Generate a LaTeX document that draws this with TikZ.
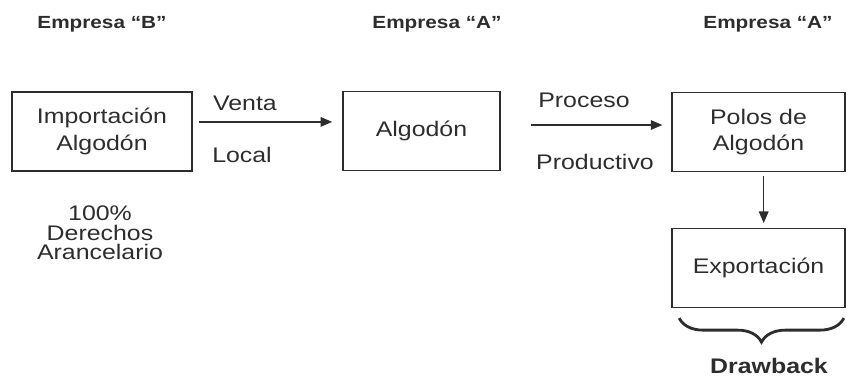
\documentclass[tikz,border=0pt]{standalone}
\usepackage{fontspec}
\setmainfont[FakeStretch=1.18]{Liberation Sans}
\usetikzlibrary{arrows.meta, positioning, decorations.pathreplacing, calc}
\definecolor{inkgray}{RGB}{45,45,45}
\tikzset{
    box/.style={rectangle, draw=inkgray, line width=1pt, minimum height=1.97cm,
                align=center, text=inkgray, font=\fontsize{15}{19}\selectfont},
    header/.style={text=inkgray, font=\bfseries\fontsize{12.5}{14}\selectfont},
    lbl/.style={text=inkgray, align=center, font=\fontsize{15}{17}\selectfont},
    arrow/.style={line width=1pt, inkgray, -{Triangle[length=2.9mm,width=2.4mm]}}
}

\begin{document}
\begin{tikzpicture}[x=0.025cm, y=-0.025cm]
    \useasboundingbox (0,0) rectangle (848,378);

    % Headers
    \node[header] (hB) at (102,24) {Empresa “B”};
    \node[header] (hA1) at (437,24) {Empresa “A”};
    \node[header] (hA2) at (768,24) {Empresa “A”};

    % Boxes
    \node[box, minimum width=4.5cm] (imp) at (102,131.5) {Importación\\Algodón};
    \node[box, minimum width=3.93cm] (alg) at (421.5,131) {Algodón};
    \node[box, minimum width=4.33cm] (pol) at (758.5,132) {Polos de\\Algodón};
    \node[box, minimum width=4.33cm] (exp) at (758.5,268) {Exportación};

    % Arrows
    \draw[arrow, shorten <=0.15cm, shorten >=0.25cm]
        ([yshift=0.24cm]imp.east) -- ([yshift=0.24cm]imp.east -| alg.west);
    \draw[arrow, shorten <=0.75cm, shorten >=0.22cm]
        ([yshift=0.15cm]alg.east) -- ([yshift=0.15cm]alg.east -| pol.west);
    \draw[arrow, shorten <=0.1cm, shorten >=0.12cm]
        ([xshift=0.13cm]pol.south) -- ([xshift=0.13cm]exp.north);

    % Arrow labels
    \node[lbl] (venta) at (245,103) {Venta};
    \node[lbl] (local) at (242,155) {Local};
    \node[lbl] (proceso) at (584,100) {Proceso};
    \node[lbl] (productivo) at (595,162) {Productivo};

    % Duties note
    \node[lbl, font=\fontsize{15}{14}\selectfont] (derechos) at (100,233)
        {100\%\\Derechos\\Arancelario};

    % Brace
    \coordinate (braceL) at ([xshift=0.2cm, yshift=-0.25cm]exp.south west);
    \coordinate (braceR) at ([xshift=-0.05cm, yshift=-0.25cm]exp.south east);
    \draw[decorate, decoration={brace, mirror, amplitude=0.6cm}, line width=2pt, inkgray]
        (braceL) -- (braceR);
    \node[header, font=\bfseries\fontsize{15}{17}\selectfont] (draw) at (769,366) {Drawback};
\end{tikzpicture}
\end{document}
